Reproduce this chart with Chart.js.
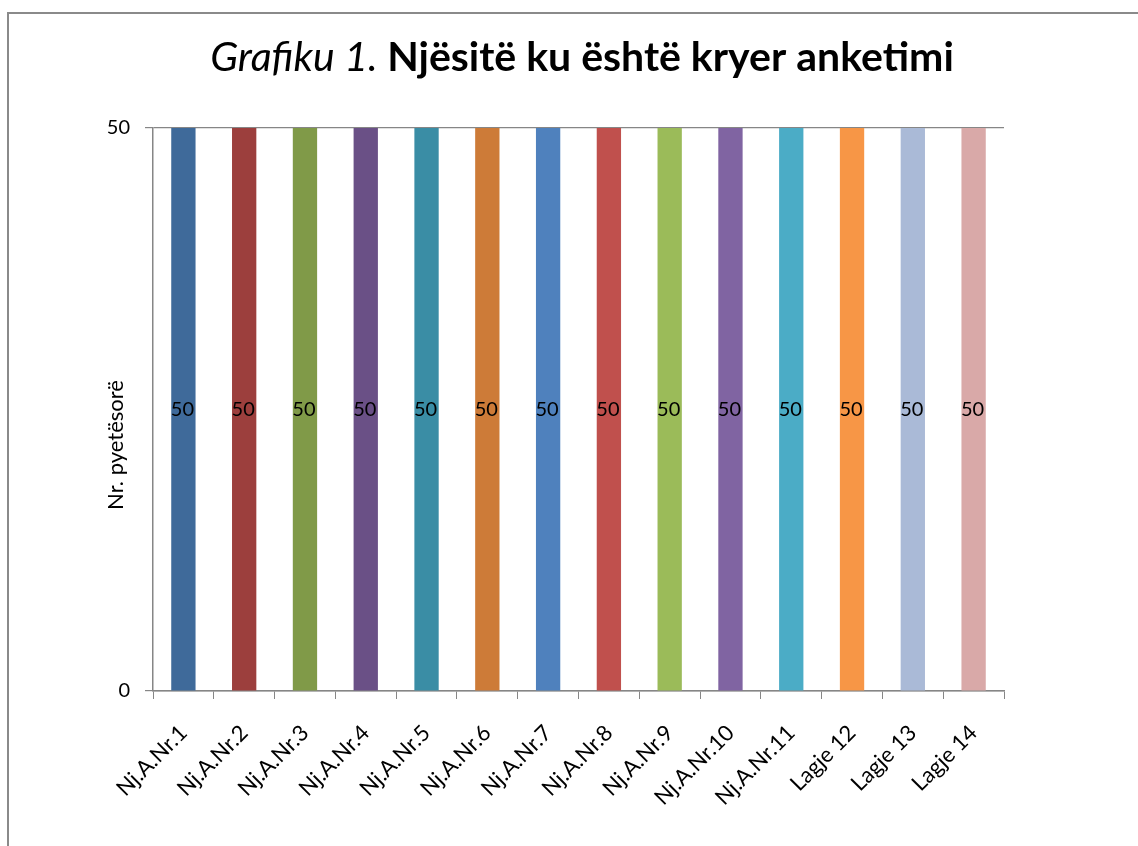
<!DOCTYPE html>
<html>
<head>
<meta charset="utf-8">
<script src="https://cdn.jsdelivr.net/npm/chart.js@4"></script>
<style>
  html, body { margin: 0; padding: 0; background: #fff; }
  #wrap { width: 1138px; height: 846px; position: relative; }
</style>
</head>
<body>
<div id="wrap"><canvas id="surveyChart"></canvas></div>
<script>
const categories = ['Nj.A.Nr.1', 'Nj.A.Nr.2', 'Nj.A.Nr.3', 'Nj.A.Nr.4', 'Nj.A.Nr.5', 'Nj.A.Nr.6', 'Nj.A.Nr.7',
  'Nj.A.Nr.8', 'Nj.A.Nr.9', 'Nj.A.Nr.10', 'Nj.A.Nr.11', 'Lagje 12', 'Lagje 13', 'Lagje 14'];
const questionnaires = [50, 50, 50, 50, 50, 50, 50, 50, 50, 50, 50, 50, 50, 50];
const yTicks = [0, 50];
const barColors = ['#3F6A9A', '#9C3F3D', '#809A48', '#6A5086', '#3A8DA5', '#CD7B38', '#4F81BD',
  '#C0504D', '#9BBB59', '#8064A2', '#4BACC6', '#F79646', '#AABAD7', '#D9A9A8'];

const FONT = 'Lato, "Open Sans", sans-serif';
const axisGrey = '#868686';

// frame, mixed italic/bold title and the y axis title
const framePlugin = {
  id: 'frame',
  beforeDraw(chart) {
    const c = chart.ctx;
    c.save();
    c.strokeStyle = '#8a8a8a';
    c.lineWidth = 2;
    c.strokeRect(8, 13, 1140, 850);
    c.restore();
  },
  afterDraw(chart) {
    const c = chart.ctx;
    c.save();
    const part1 = 'Grafiku 1. ';
    const part2 = 'Njësitë ku është kryer anketimi';
    const f1 = 'italic 400 41px ' + FONT;
    const f2 = 'bold 41px ' + FONT;
    c.font = f1;
    const w1 = c.measureText(part1).width;
    c.font = f2;
    const w2 = c.measureText(part2).width;
    let x = 582 - (w1 + w2) / 2;
    c.fillStyle = '#000';
    c.textBaseline = 'alphabetic';
    c.font = f1;
    c.fillText(part1, x, 71);
    c.font = f2;
    c.fillText(part2, x + w1, 71);

    // y axis title
    c.translate(116, 445);
    c.rotate(-Math.PI / 2);
    c.font = '22px ' + FONT;
    c.textAlign = 'center';
    c.textBaseline = 'middle';
    c.fillText('Nr. pyetësorë', 0, 0);
    c.restore();
  }
};

// value labels in the middle of each bar
const valueLabels = {
  id: 'valueLabels',
  afterDatasetsDraw(chart) {
    const c = chart.ctx;
    const meta = chart.getDatasetMeta(0);
    c.save();
    c.font = '20px ' + FONT;
    c.fillStyle = '#000';
    c.textAlign = 'center';
    c.textBaseline = 'middle';
    meta.data.forEach((bar, i) => {
      const p = bar.getProps(['x', 'y', 'base'], true);
      c.fillText(String(questionnaires[i]), p.x - 1, (p.y + p.base) / 2);
    });
    c.restore();
  }
};

const ctx = document.getElementById('surveyChart').getContext('2d');
new Chart(ctx, {
  type: 'bar',
  data: {
    labels: categories,
    datasets: [{
      data: questionnaires,
      backgroundColor: barColors,
      borderWidth: 0,
      barPercentage: 0.4,
      categoryPercentage: 1
    }]
  },
  options: {
    responsive: true,
    maintainAspectRatio: false,
    animation: false,
    layout: { padding: { top: 128, right: 134, left: 0, bottom: 0 } },
    plugins: {
      legend: { display: false },
      title: { display: false },
      tooltip: { enabled: false }
    },
    scales: {
      x: {
        afterFit(scale) { scale.height = 155; },
        grid: { display: true, drawOnChartArea: false, drawTicks: true, tickLength: 8, color: axisGrey, offset: true },
        border: { color: axisGrey, width: 1.5 },
        ticks: {
          color: '#000',
          font: { family: FONT, size: 22 },
          minRotation: 45,
          maxRotation: 45,
          padding: 21
        }
      },
      y: {
        min: 0,
        max: 50,
        afterFit(scale) { scale.width = 153; },
        afterBuildTicks(scale) { scale.ticks = yTicks.map(v => ({ value: v })); },
        grid: { color: axisGrey, tickLength: 8, lineWidth: 1.2 },
        border: { color: axisGrey, width: 1.5 },
        ticks: {
          color: '#000',
          font: { family: FONT, size: 20 },
          padding: 15
        }
      }
    }
  },
  plugins: [framePlugin, valueLabels]
});
</script>
</body>
</html>
